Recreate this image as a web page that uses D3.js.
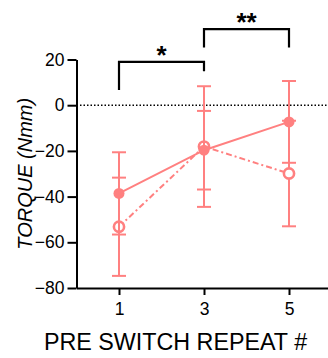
<!DOCTYPE html>
<html><head><meta charset="utf-8">
<script src="https://cdn.jsdelivr.net/npm/d3@7"></script>
<style>
html,body{margin:0;padding:0;background:#fff;}
svg{display:block;}
text{font-family:"Liberation Sans",Arial,sans-serif;}
</style></head>
<body>
<svg id="c" width="328" height="358"></svg>
<script>
// Data
const repeats = [1, 3, 5];
const filledMean = [-38.6, -19.7, -7.3];
const filledSD = [18.0, 17.2, 17.9];
const openMean = [-53.2, -18.1, -29.9];
const openSD = [21.5, 26.4, 23.1];
const yTicks = [20, 0, -20, -40, -60, -80];
const xTicks = [1, 3, 5];
const comparisons = [
  {from: 1, to: 3, label: "*"},
  {from: 3, to: 5, label: "**"}
];

const color = "#ff8080";
const svg = d3.select("#c");
const x = d3.scaleLinear().domain([0, 6]).range([76.5, 331.5]);
const y = d3.scaleLinear().domain([-80, 20]).range([288, 59.5]);

// zero line
svg.append("line").attr("x1", x(0)).attr("x2", 328)
  .attr("y1", y(0)).attr("y2", y(0))
  .attr("stroke", "#000").attr("stroke-width", 1.5).attr("stroke-dasharray", "1.5,2");

// axes
const yAxis = svg.append("g").attr("transform", `translate(${x(0)},0)`)
  .call(d3.axisLeft(y).tickValues(yTicks).tickFormat(d3.format("d")).tickSize(9).tickSizeOuter(0).tickPadding(3));
const xAxis = svg.append("g").attr("transform", `translate(0,${y(-80)})`)
  .call(d3.axisBottom(x).tickValues(xTicks).tickFormat(d3.format("d")).tickSize(7).tickSizeOuter(0).tickPadding(8));
[yAxis, xAxis].forEach(g => {
  g.selectAll("path,line").attr("stroke", "#000").attr("stroke-width", 2);
  g.selectAll("text").attr("font-size", 17.5).attr("fill", "#000")
   .style("font-family", "Liberation Sans, Arial, sans-serif");
});

// series
function drawSeries(means, sds, dash, filled) {
  const pts = repeats.map((r, i) => ({x: r, m: means[i], s: sds[i]}));
  const g = svg.append("g");
  pts.forEach(p => {
    g.append("line").attr("x1", x(p.x)).attr("x2", x(p.x))
      .attr("y1", y(p.m + p.s)).attr("y2", y(p.m - p.s))
      .attr("stroke", color).attr("stroke-width", 2);
    [p.m + p.s, p.m - p.s].forEach(v => {
      g.append("line").attr("x1", x(p.x) - 7).attr("x2", x(p.x) + 7)
        .attr("y1", y(v)).attr("y2", y(v))
        .attr("stroke", color).attr("stroke-width", 2);
    });
  });
  g.append("path").datum(pts)
    .attr("d", d3.line().x(d => x(d.x)).y(d => y(d.m)))
    .attr("fill", "none").attr("stroke", color).attr("stroke-width", 2)
    .attr("stroke-dasharray", dash);
  g.selectAll("circle").data(pts).join("circle")
    .attr("cx", d => x(d.x)).attr("cy", d => y(d.m))
    .attr("r", filled ? 5.5 : 5.1)
    .attr("fill", filled ? color : "#fff")
    .attr("stroke", color).attr("stroke-width", filled ? 0 : 2.6);
}
drawSeries(openMean, openSD, "6,3,2,3", false);
drawSeries(filledMean, filledSD, null, true);

// significance brackets
const bracketDefs = [
  {top: 19.0, left: 6.6, right: 14.9},
  {top: 33.3, left: 25.3, right: 25.3}
];
comparisons.forEach((c, i) => {
  const b = bracketDefs[i];
  svg.append("path")
    .attr("d", `M${x(c.from)},${y(b.left)}V${y(b.top)}H${x(c.to)}V${y(b.right)}`)
    .attr("fill", "none").attr("stroke", "#000").attr("stroke-width", 2.2);
  svg.append("text").attr("x", (x(c.from) + x(c.to)) / 2).attr("y", y(b.top) + 2)
    .attr("text-anchor", "middle").attr("font-size", 26).attr("font-weight", "bold")
    .text(c.label);
});

// titles
svg.append("text").attr("transform", `translate(32,${(y(20) + y(-80)) / 2}) rotate(-90)`)
  .attr("text-anchor", "middle").attr("font-size", 20).attr("font-style", "italic")
  .text("TORQUE (Nmm)");
svg.append("text").attr("x", 175.5).attr("y", 350)
  .attr("text-anchor", "middle").attr("font-size", 23.3)
  .text("PRE SWITCH REPEAT #");
</script>
</body></html>
